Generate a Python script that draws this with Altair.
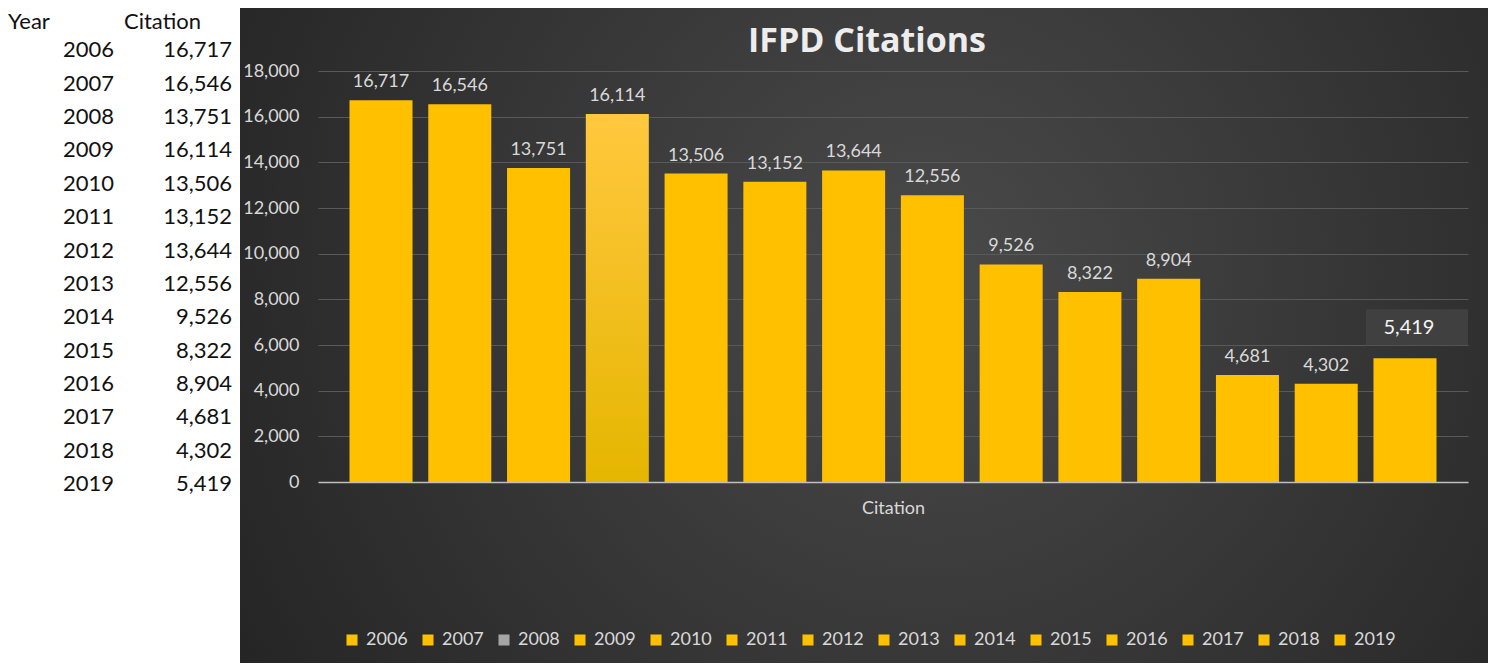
import altair as alt
import pandas as pd

years = ["2006", "2007", "2008", "2009", "2010", "2011", "2012",
         "2013", "2014", "2015", "2016", "2017", "2018", "2019"]
citations = [16717, 16546, 13751, 16114, 13506, 13152, 13644,
             12556, 9526, 8322, 8904, 4681, 4302, 5419]
legend_colors = ["#FFC000", "#FFC000", "#A6A6A6", "#FFC000", "#FFC000", "#FFC000", "#FFC000",
                 "#FFC000", "#FFC000", "#FFC000", "#FFC000", "#FFC000", "#FFC000", "#FFC000"]
y_ticks = [0, 2000, 4000, 6000, 8000, 10000, 12000, 14000, 16000, 18000]
highlight_year = "2009"
boxed_year = "2019"

FONT = "Lato"
LABEL = "#D9D9D9"
GOLD = "#FFC000"

df = pd.DataFrame({"Year": years, "Citation": citations})

# ---------------- left table ----------------
rows = ["hdr"] + years
tbl = pd.DataFrame({"row": years, "Year": years,
                    "Citation": [f"{v:,}" for v in citations]})
hdr = pd.DataFrame({"row": ["hdr", "hdr"], "col": ["Year", "Citation"],
                    "label": ["Year", "Citation"]})

yrow = alt.Y("row:O", scale=alt.Scale(domain=rows, range=[9, 476], padding=0), axis=None)

cells = alt.Chart(tbl).transform_fold(["Year", "Citation"], as_=["col", "label"]).mark_text(
    align="right", baseline="middle", font=FONT, fontSize=22, color="#111111"
).encode(
    x=alt.X("col:N", scale=alt.Scale(domain=["Year", "Citation"], range=[106, 224], padding=0), axis=None),
    y=yrow,
    text="label:N",
)
heads = alt.Chart(hdr).mark_text(
    align="left", baseline="middle", dy=5, font=FONT, fontSize=22, color="#111111"
).encode(
    x=alt.X("col:N", scale=alt.Scale(domain=["Year", "Citation"], range=[0, 116], padding=0), axis=None),
    y=yrow,
    text="label:N",
)
table = alt.layer(cells, heads).resolve_scale(x="independent").properties(
    width=232, height=480, view=alt.ViewBackground(stroke=None)
)

# ---------------- bar chart ----------------
xenc = alt.X(
    "Year:O",
    scale=alt.Scale(range=[78, 1228], paddingInner=0.2, paddingOuter=0.4),
    axis=alt.Axis(title="Citation", labels=False, ticks=False, grid=False,
                  domainColor="#BFBFBF", domainWidth=1.5, offset=-181,
                  titleColor=LABEL, titleFont=FONT, titleFontSize=18,
                  titleFontWeight="normal", titlePadding=17),
)
yenc = alt.Y(
    "Citation:Q",
    scale=alt.Scale(domain=[0, 18000], range=[474, 63], nice=False),
    axis=alt.Axis(title=None, values=y_ticks, format=",.0f", domain=False, ticks=False,
                  labelColor=LABEL, labelFont=FONT, labelFontSize=18, labelPadding=19,
                  offset=-78, grid=True, gridColor="#595959", gridWidth=1),
)

base = alt.Chart(df).encode(x=xenc, y=yenc)

bars = base.transform_filter(alt.datum.Year != highlight_year).mark_bar(color=GOLD)
hbar = base.transform_filter(alt.datum.Year == highlight_year).mark_bar(
    color={"gradient": "linear", "x1": 0, "y1": 0, "x2": 0, "y2": 1,
           "stops": [{"offset": 0, "color": "#FFC83E"}, {"offset": 1, "color": "#E5B600"}]}
)
labels = base.transform_filter(alt.datum.Year != boxed_year).mark_text(
    baseline="bottom", dy=-9, font=FONT, fontSize=18, color=LABEL
).encode(text=alt.Text("Citation:Q", format=","))

label_box = base.transform_filter(alt.datum.Year == boxed_year).mark_rect(
    width=102, height=36, xOffset=12, yOffset=-31, color="#404040"
)
boxed_label = base.transform_filter(alt.datum.Year == boxed_year).mark_text(
    baseline="middle", dy=-30, dx=4, font=FONT, fontSize=20, color="#F5F5F5"
).encode(text=alt.Text("Citation:Q", format=","))

legend_layer = base.mark_square(opacity=0, size=10).encode(
    color=alt.Color(
        "Year:N",
        scale=alt.Scale(domain=years, range=legend_colors),
        legend=alt.Legend(title=None, orient="none", legendX=335, legendY=623,
                          direction="horizontal", columns=14, symbolType="square",
                          symbolSize=121, symbolOpacity=1, symbolStrokeWidth=0,
                          labelFont=FONT, labelFontSize=18, labelColor=LABEL,
                          labelOffset=5, columnPadding=11),
    )
)

bg_expr = ("{gradient: 'radial', x1: 0.55, y1: 0.45, r1: 0, x2: 0.55, y2: 0.45, r2: 0.75, "
           "stops: [{offset: 0, color: '#4a4a4a'}, {offset: 1, color: '#1e1e1e'}]}")

chart_panel = alt.layer(bars, hbar, label_box, labels, boxed_label, legend_layer).properties(
    width=1248, height=655,
    view=alt.ViewBackground(fill=alt.ExprRef(expr=bg_expr), stroke=None),
    title=alt.Title("IFPD Citations", font="Open Sans", fontSize=34, fontWeight="bold",
                    color="#EDEDED", anchor="middle", offset=-51, dx=3),
)

chart = alt.hconcat(table, chart_panel, spacing=0).properties(padding=0).configure_view(stroke=None)

chart.save("out.html", embed_options={"renderer": "svg", "actions": False})
